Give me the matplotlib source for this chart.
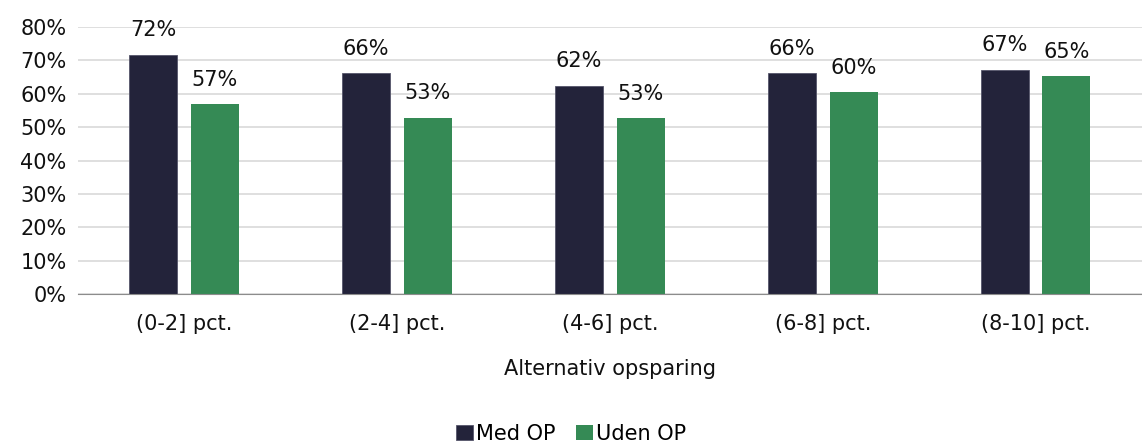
import matplotlib.pyplot as plt
import numpy as np
from matplotlib.ticker import PercentFormatter

# %% data
categories = ["(0-2] pct.", "(2-4] pct.", "(4-6] pct.", "(6-8] pct.", "(8-10] pct."]
med_op = [71.6, 66.1, 62.4, 66.2, 67.2]
uden_op = [56.9, 52.8, 52.7, 60.4, 65.3]

dark = "#23233a"
green = "#358a55"

# %% plot
fig = plt.figure(figsize=(11.42, 4.46), dpi=100)
ax = fig.add_axes([0.068, 0.34, 0.932, 0.60])

x = np.arange(len(categories))
w = 0.225
b1 = ax.bar(x - 0.145, med_op, w, color=dark, edgecolor="#55556a", linewidth=0.6, label="Med OP")
b2 = ax.bar(x + 0.145, uden_op, w, color=green, label="Uden OP")

for bars in (b1, b2):
    for rect in bars:
        h = rect.get_height()
        ax.text(rect.get_x() + rect.get_width()/2, h + 4.3, "%d%%" % round(h),
                ha="center", va="bottom", fontsize=15, color="#111111")

ax.set_xlim(-0.5, len(categories) - 0.5)
ax.set_ylim(0, 80)
ax.set_yticks(np.arange(0, 81, 10))
ax.yaxis.set_major_formatter(PercentFormatter(decimals=0))
ax.set_xticks(x)
ax.set_xticklabels(categories)
ax.tick_params(axis="both", length=0, labelsize=15, colors="#111111")
ax.tick_params(axis="x", pad=14)
ax.tick_params(axis="y", pad=8)
ax.grid(axis="y", color="#d9d9d9", linewidth=1.2)
ax.set_axisbelow(True)
for s in ["top", "right", "left"]:
    ax.spines[s].set_visible(False)
ax.spines["bottom"].set_color("#8c8c8c")
ax.set_xlabel("Alternativ opsparing", fontsize=15, color="#111111", labelpad=18)

fig.legend(loc="lower center", bbox_to_anchor=(0.5, -0.037), ncol=2, frameon=False,
           fontsize=15, handlelength=0.8, handleheight=0.8, handletextpad=0.15,
           columnspacing=1.0)

plt.savefig("out.png")
